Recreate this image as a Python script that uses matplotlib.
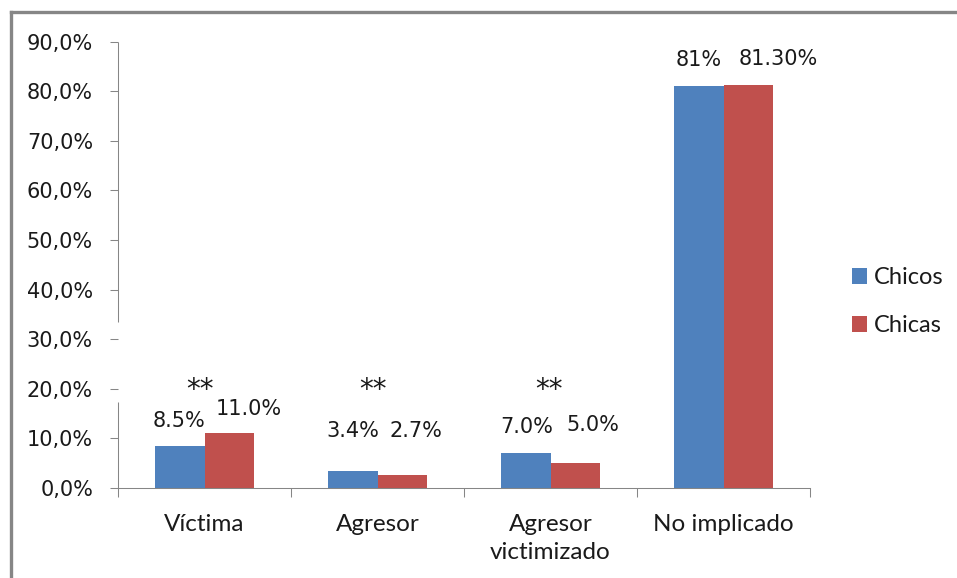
import matplotlib
matplotlib.use("Agg")
import matplotlib.pyplot as plt
from matplotlib.lines import Line2D
import numpy as np

# Data
categories = ["Víctima", "Agresor", "Agresor\nvictimizado", "No implicado"]
chicos = [8.5, 3.4, 7.0, 81.0]
chicas = [11.0, 2.7, 5.0, 81.3]
chicos_labels = ["8.5%", "3.4%", "7.0%", "81%"]
chicas_labels = ["11.0%", "2.7%", "5.0%", "81.30%"]
significance = ["**", "**", "**", ""]
y_ticks = [0, 10, 20, 30, 40, 50, 60, 70, 80, 90]
y_tick_labels = ["0,0%", "10,0%", "20,0%", "30,0%", "40,0%",
                 "50,0%", "60,0%", "70,0%", "80,0%", "90,0%"]
series_names = ["Chicos", "Chicas"]

# Styling
BLUE = "#4F81BD"
RED = "#C0504D"
GRAY = "#868686"
NUM_FONT = "DejaVu Sans"
TXT_FONT = "Lato"
PX = 0.72  # points per pixel at 100 dpi

# label placement (pixel offsets from top-centre of each bar: dx, dy to baseline)
chicos_offsets = [(-0.5, 19), (0, 34), (0.5, 20), (0, 20)]
chicas_offsets = [(20, 18.5), (13.5, 37.5), (18, 32), (30.5, 20)]
star_offsets = [(-5, 90), (-5, 90), (-2, 90), (0, 90)]

fig = plt.figure(figsize=(9.57, 5.78), dpi=100)
ax = fig.add_axes([118 / 957, 1 - 488 / 578, (810 - 118) / 957, (488 - 41.7) / 578])

x = np.arange(len(categories))
w = 1 / 3.5
b1 = ax.bar(x - w / 2, chicos, w, color=BLUE, label=series_names[0], zorder=2)
b2 = ax.bar(x + w / 2, chicas, w, color=RED, label=series_names[1], zorder=2)

ax.set_xlim(-0.5, len(categories) - 0.5)
ax.set_ylim(0, 90)

# y axis
ax.set_yticks(y_ticks)
ax.set_yticklabels(y_tick_labels, fontfamily=NUM_FONT, fontsize=15, color="#1a1a1a")
ax.tick_params(axis="y", direction="out", length=6, width=0.75, color=GRAY, pad=12)

# x axis: boundary ticks (major), category labels (minor)
ax.set_xticks(np.arange(len(categories) + 1) - 0.5)
ax.set_xticklabels([""] * (len(categories) + 1))
ax.set_xticks(x, minor=True)
ax.set_xticklabels(categories, minor=True, fontfamily=TXT_FONT, fontsize=17.5,
                   color="#1a1a1a", linespacing=1.42)
ax.tick_params(axis="x", which="major", direction="out", length=6.5, width=0.75, color=GRAY)
ax.tick_params(axis="x", which="minor", length=0, pad=18.5)

for side in ("top", "right", "left"):
    ax.spines[side].set_visible(False)
ax.spines["bottom"].set_color(GRAY)
ax.spines["bottom"].set_linewidth(0.75)

# vertical axis line, interrupted behind the significance marks
trans = ax.get_yaxis_transform()
for y0, y1 in [(0, 17.3), (33.5, 90)]:
    ax.plot([0, 0], [y0, y1], transform=trans, color=GRAY, lw=0.75,
            clip_on=False, solid_capstyle="butt")

# value labels
for bars, labels, offs in [(b1, chicos_labels, chicos_offsets),
                           (b2, chicas_labels, chicas_offsets)]:
    for rect, lab, (dx, dy) in zip(bars, labels, offs):
        ax.annotate(lab, (rect.get_x() + rect.get_width() / 2, rect.get_height()),
                    xytext=(dx * PX, dy * PX), textcoords="offset points",
                    ha="center", va="baseline", fontfamily=NUM_FONT,
                    fontsize=15, color="#1a1a1a")

# significance marks
for xi, s, (dx, dy) in zip(x, significance, star_offsets):
    if s:
        ax.annotate(s, (xi, 0), xytext=(dx * PX, dy * PX), textcoords="offset points",
                    ha="center", va="baseline", fontfamily=NUM_FONT,
                    fontsize=20, color="#1a1a1a")

# legend
leg = ax.legend(handles=[b1, b2], loc="upper left",
                bbox_to_anchor=(852 / 957, 1 - 267 / 578),
                bbox_transform=fig.transFigure, frameon=False,
                prop={"family": TXT_FONT, "size": 17},
                handlelength=0.64, handleheight=0.64, handletextpad=0.3,
                labelspacing=1.15, borderpad=0, borderaxespad=0)
for t in leg.get_texts():
    t.set_color("#1a1a1a")

# outer chart border (top and left edges visible)
fig.add_artist(Line2D([11 / 957, 1.0], [1 - 11.5 / 578] * 2, transform=fig.transFigure,
                      color=GRAY, lw=2.4))
fig.add_artist(Line2D([11 / 957] * 2, [0.0, 1 - 11.5 / 578], transform=fig.transFigure,
                      color=GRAY, lw=2.4))

fig.savefig("out.png", dpi=100, facecolor="white")
